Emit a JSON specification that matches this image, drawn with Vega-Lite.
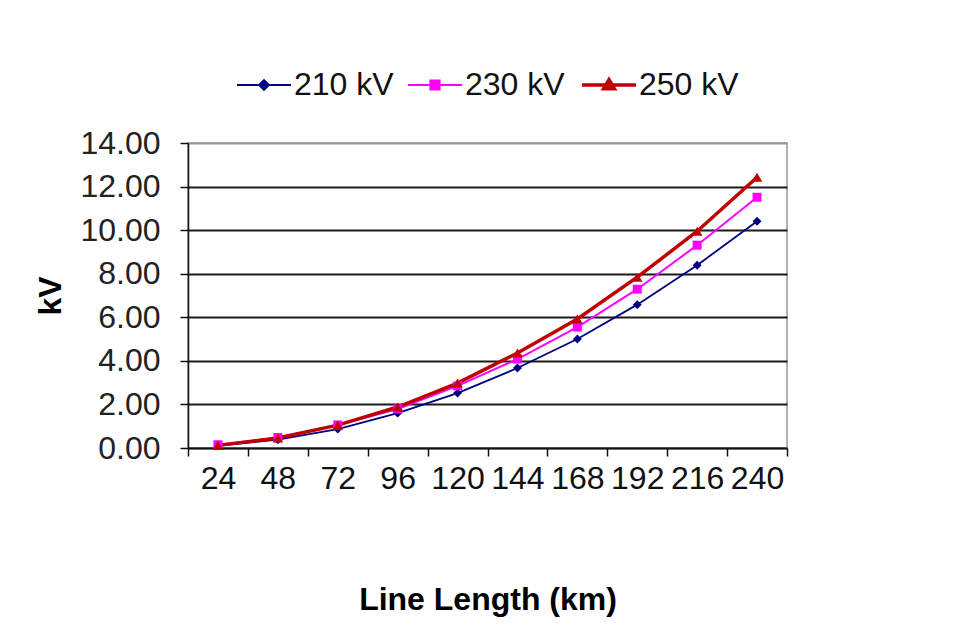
{
  "$schema": "https://vega.github.io/schema/vega-lite/v6.json",
  "autosize": {"type": "none"},
  "width": 599,
  "height": 305,
  "padding": {"left": 188, "top": 143, "right": 192, "bottom": 186},
  "background": "white",
  "config": {
    "font": "Liberation Sans",
    "view": {"stroke": "#9a9a9a", "strokeWidth": 1.5}
  },
  "data": {
    "values": [
      {"km": 24, "series": "210 kV", "kv": 0.10},
      {"km": 48, "series": "210 kV", "kv": 0.38},
      {"km": 72, "series": "210 kV", "kv": 0.87},
      {"km": 96, "series": "210 kV", "kv": 1.60},
      {"km": 120, "series": "210 kV", "kv": 2.52},
      {"km": 144, "series": "210 kV", "kv": 3.67},
      {"km": 168, "series": "210 kV", "kv": 5.00},
      {"km": 192, "series": "210 kV", "kv": 6.58},
      {"km": 216, "series": "210 kV", "kv": 8.39},
      {"km": 240, "series": "210 kV", "kv": 10.41},
      {"km": 24, "series": "230 kV", "kv": 0.15},
      {"km": 48, "series": "230 kV", "kv": 0.48},
      {"km": 72, "series": "230 kV", "kv": 1.06},
      {"km": 96, "series": "230 kV", "kv": 1.79},
      {"km": 120, "series": "230 kV", "kv": 2.85},
      {"km": 144, "series": "230 kV", "kv": 4.08},
      {"km": 168, "series": "230 kV", "kv": 5.55},
      {"km": 192, "series": "230 kV", "kv": 7.29},
      {"km": 216, "series": "230 kV", "kv": 9.31},
      {"km": 240, "series": "230 kV", "kv": 11.51},
      {"km": 24, "series": "250 kV", "kv": 0.12},
      {"km": 48, "series": "250 kV", "kv": 0.46},
      {"km": 72, "series": "250 kV", "kv": 1.05},
      {"km": 96, "series": "250 kV", "kv": 1.88},
      {"km": 120, "series": "250 kV", "kv": 2.98},
      {"km": 144, "series": "250 kV", "kv": 4.36},
      {"km": 168, "series": "250 kV", "kv": 5.92},
      {"km": 192, "series": "250 kV", "kv": 7.84},
      {"km": 216, "series": "250 kV", "kv": 9.95},
      {"km": 240, "series": "250 kV", "kv": 12.43}
    ]
  },
  "encoding": {
    "x": {
      "field": "km",
      "type": "ordinal",
      "scale": {"type": "band", "paddingInner": 0, "paddingOuter": 0},
      "axis": {
        "title": "Line Length (km)",
        "labelAngle": 0,
        "tickBand": "extent",
        "labelFontSize": 32,
        "labelColor": "#111",
        "labelPadding": 7,
        "tickSize": 8,
        "tickColor": "#111",
        "tickWidth": 1.5,
        "domainColor": "#111",
        "domainWidth": 1.5,
        "titleFontSize": 32,
        "titleFontWeight": "bold",
        "titleColor": "#000",
        "titlePadding": 90,
        "grid": false
      }
    },
    "y": {
      "field": "kv",
      "type": "quantitative",
      "scale": {"domain": [0, 14], "nice": false},
      "axis": {
        "title": "kV",
        "values": [0, 2, 4, 6, 8, 10, 12, 14],
        "format": ".2f",
        "labelFontSize": 32,
        "labelColor": "#222",
        "labelPadding": 20,
        "tickSize": 8,
        "tickColor": "#111",
        "tickWidth": 1.5,
        "domainColor": "#111",
        "domainWidth": 1.5,
        "grid": true,
        "gridColor": {"condition": {"test": "datum.value == 14", "value": "#9a9a9a"}, "value": "#1a1a1a"},
        "gridWidth": 2,
        "titleFontSize": 32,
        "titleFontWeight": "bold",
        "titleColor": "#000",
        "titlePadding": 12
      }
    },
    "color": {
      "field": "series",
      "type": "nominal",
      "scale": {"domain": ["210 kV", "230 kV", "250 kV"], "range": ["#000080", "#ff00ff", "#c00000"]},
      "legend": {
        "orient": "none",
        "legendX": 60,
        "legendY": -74,
        "direction": "horizontal",
        "title": null,
        "padding": 0,
        "labelFontSize": 32,
        "labelColor": "#111",
        "labelOffset": 14,
        "columnPadding": 10,
        "symbolSize": 2916,
        "encode": {
          "symbols": {
            "update": {
              "shape": {"signal": "datum.value == '210 kV' ? 'M-1,0H1M0,-0.18L0.18,0L0,0.18L-0.18,0Z' : datum.value == '230 kV' ? 'M-1,0H1M-0.17,-0.17H0.17V0.17H-0.17Z' : 'M-1,0H1M0,-0.2L0.2,0.14H-0.2Z'"},
              "size": {"value": 2916},
              "fill": {"signal": "scale('color', datum.value)"},
              "stroke": {"signal": "scale('color', datum.value)"},
              "strokeWidth": {"signal": "datum.value == '250 kV' ? 3.5 : 2"},
              "opacity": {"value": 1},
              "fillOpacity": {"value": 1}
            }
          }
        }
      }
    }
  },
  "layer": [
    {
      "mark": {"type": "line"},
      "encoding": {
        "strokeWidth": {
          "condition": [
            {"test": "datum.series == '210 kV'", "value": 1.8},
            {"test": "datum.series == '230 kV'", "value": 2}
          ],
          "value": 3.5
        }
      }
    },
    {
      "mark": {"type": "point", "filled": true, "opacity": 1},
      "encoding": {
        "shape": {
          "condition": [
            {"test": "datum.series == '210 kV'", "value": "diamond"},
            {"test": "datum.series == '230 kV'", "value": "square"}
          ],
          "value": "triangle-up"
        },
        "size": {
          "condition": [
            {"test": "datum.series == '210 kV'", "value": 80},
            {"test": "datum.series == '230 kV'", "value": 80}
          ],
          "value": 110
        }
      }
    }
  ]
}
